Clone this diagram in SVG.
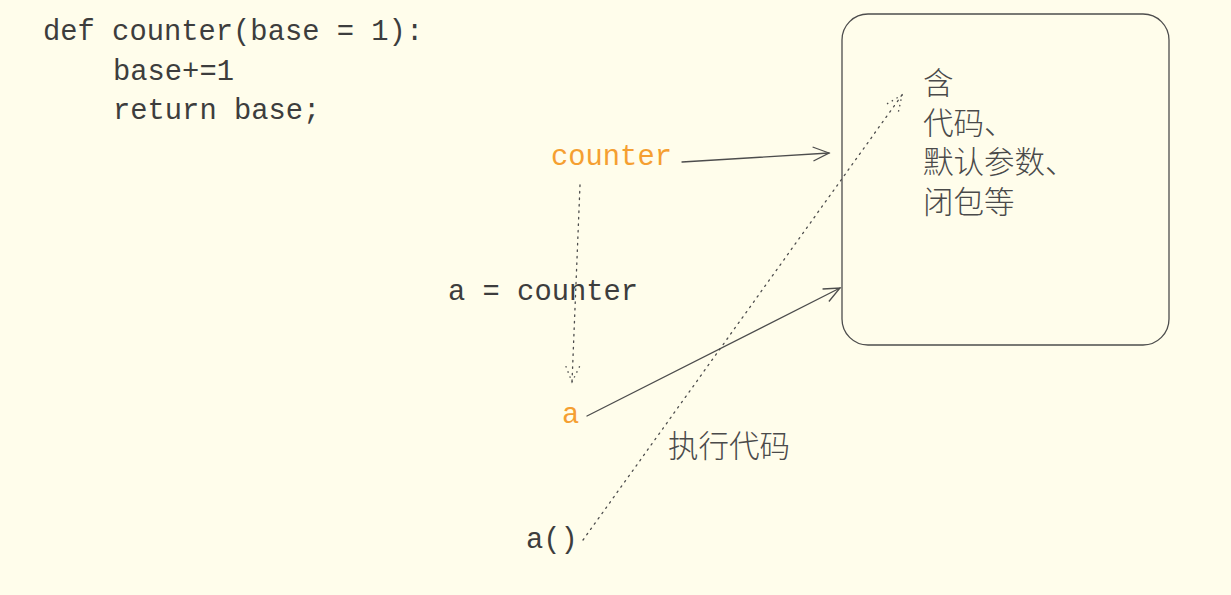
<svg xmlns="http://www.w3.org/2000/svg" width="1231" height="595" viewBox="0 0 1231 595">
<defs>
<style>
.code{font-family:"Liberation Mono","DejaVu Sans Mono",monospace;font-size:28.8px;fill:#3d3d3d}
.hl{fill:#f59f31}
.cjk{font-family:"Liberation Sans","Noto Sans CJK SC",sans-serif;font-size:30.5px;fill:#4a4a4a;font-weight:300}
.solid{fill:none;stroke:#4d4d4d;stroke-width:1.3;stroke-linecap:round}
.dot{fill:none;stroke:#4d4d4d;stroke-width:1.3;stroke-dasharray:1.5 5;stroke-linecap:round}
</style>
<marker id="arr" viewBox="0 0 20 20" refX="18" refY="10" markerWidth="20" markerHeight="20" markerUnits="userSpaceOnUse" orient="auto">
<path d="M2,3 L18,10 L2,17" fill="none" stroke="#4d4d4d" stroke-width="1.3"/>
</marker>
<marker id="arrd" viewBox="0 0 20 20" refX="18" refY="10" markerWidth="20" markerHeight="20" markerUnits="userSpaceOnUse" orient="auto">
<path d="M2,3 L18,10 L2,17" fill="none" stroke="#4d4d4d" stroke-width="1.3" stroke-dasharray="1.5 4"/>
</marker>
</defs>
<rect width="1231" height="595" fill="#fffdeb"/>
<g id="code">
<text class="code" x="43" y="40">def counter(base = 1):</text>
<text class="code" x="113" y="80">base+=1</text>
<text class="code" x="113" y="119">return base;</text>
</g>
<g id="box">
<rect x="842" y="14" width="327" height="331" rx="26" fill="none" stroke="#4d4d4d" stroke-width="1.3"/>
<text class="cjk" x="923" y="94">含</text>
<text class="cjk" x="923" y="134">代码、</text>
<text class="cjk" x="923" y="173">默认参数、</text>
<text class="cjk" x="923" y="213">闭包等</text>
</g>
<g id="counter"><text class="code hl" x="551" y="165">counter</text></g>
<g id="assign"><text class="code" x="448" y="300">a = counter</text></g>
<g id="a"><text class="code hl" x="562" y="423">a</text></g>
<g id="call"><text class="code" x="526" y="548">a()</text></g>
<g id="exec"><text class="cjk" x="668" y="457">执行代码</text></g>
<g id="connectors">
<path class="solid" d="M682,162 L829,153" marker-end="url(#arr)"/>
<path class="dot" d="M580,185 L572,382" marker-end="url(#arrd)"/>
<path class="solid" d="M587,416 L840,288" marker-end="url(#arr)"/>
<path class="dot" d="M583,540 L902,95" marker-end="url(#arrd)"/>
</g>
</svg>
